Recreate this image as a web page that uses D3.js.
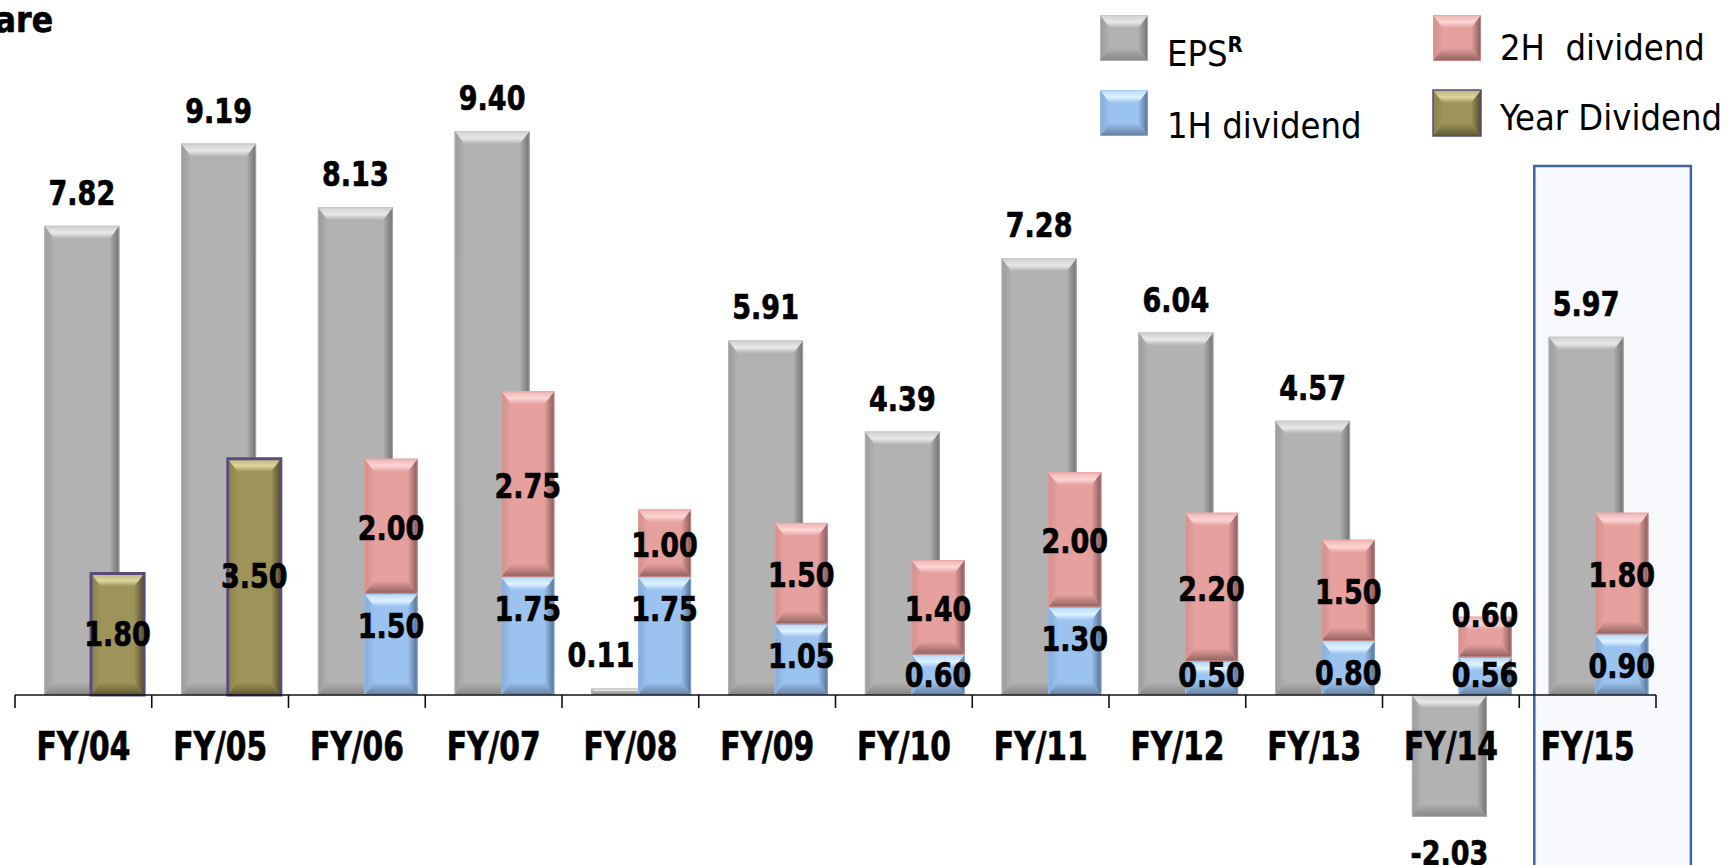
<!DOCTYPE html>
<html>
<head>
<meta charset="utf-8">
<script src="https://cdn.jsdelivr.net/npm/d3@7"></script>
<style>
  html, body { margin: 0; padding: 0; background: #ffffff; overflow: hidden; }
  svg { display: block; }
  text { font-family: "DejaVu Sans Condensed", "DejaVu Sans", sans-serif; font-stretch: condensed; }
</style>
</head>
<body>
<svg id="chart" width="1729" height="865"></svg>
<script>
// Per-share figures by financial year
const categories = ["FY/04", "FY/05", "FY/06", "FY/07", "FY/08", "FY/09", "FY/10", "FY/11", "FY/12", "FY/13", "FY/14", "FY/15"];
const eps          = [7.82, 9.19, 8.13, 9.40, 0.11, 5.91, 4.39, 7.28, 6.04, 4.57, -2.03, 5.97];
const yearDividend = [1.80, 3.50, null, null, null, null, null, null, null, null, null, null];
const firstHalf    = [null, null, 1.50, 1.75, 1.75, 1.05, 0.60, 1.30, 0.50, 0.80, 0.56, 0.90];
const secondHalf   = [null, null, 2.00, 2.75, 1.00, 1.50, 1.40, 2.00, 2.20, 1.50, 0.60, 1.80];
const highlighted  = "FY/15";
const titleText    = "Per share";

// Bevel palettes: face, top ridge, top highlight, bottom, left, right
const palette = {
  eps:  { face: "#b2b2b2", top: "#cfcfcf", hi: "#e8e8e8", bottom: "#858585", left: "#9a9a9a", right: "#707070", edge: "#c4c4c4" },
  h1:   { face: "#9cc2f0", top: "#b5d7fb", hi: "#dff3ff", bottom: "#62809f", left: "#86abd8", right: "#546f91", edge: "#9cc2f0" },
  h2:   { face: "#e6a19f", top: "#eeb3b2", hi: "#fbd6d5", bottom: "#8e605e", left: "#d38f8d", right: "#85595a", edge: "#e6a19f" },
  year: { face: "#9e9459", top: "#bbb27a", hi: "#ddd6a2", bottom: "#5f5931", left: "#8a824d", right: "#524c2a", edge: "#5b4b7c" }
};

const legendItems = [
  { key: "eps",  label: "EPS", sup: "R", col: 0, row: 0 },
  { key: "h1",   label: "1H dividend", col: 0, row: 1 },
  { key: "h2",   label: "2H\u00a0 dividend", col: 1, row: 0 },
  { key: "year", label: "Year Dividend", col: 1, row: 1 }
];

const svg = d3.select("#chart");

// Scales: EPS on the primary axis, dividends on the secondary axis, shared zero line
const x = d3.scaleBand().domain(categories).range([15, 1656]).paddingInner(0).paddingOuter(0);
const bw = x.bandwidth();
const yEps = d3.scaleLinear().domain([-3, 10]).range([875, 95]);
const yDiv = d3.scaleLinear().domain([0, 10]).range([695, 20]);
const zeroY = yEps(0);

const epsX = c => x(c) + bw * 0.215;
const epsW = bw * 0.548;
const divX = c => x(c) + bw * 0.556;
const divW = bw * 0.388;

// Highlight panel for the latest year
svg.append("rect")
  .attr("x", x(highlighted) + bw * 0.11)
  .attr("y", 166)
  .attr("width", bw * 1.145)
  .attr("height", 760)
  .attr("fill", "#f7f9fc")
  .attr("stroke", "#3f659f")
  .attr("stroke-width", 2.5);

// Gradients for bevel sides
const defs = svg.append("defs");
Object.entries(palette).forEach(([k, p]) => {
  const gl = defs.append("linearGradient").attr("id", "gl-" + k).attr("x1", 0).attr("x2", 1).attr("y1", 0).attr("y2", 0);
  gl.append("stop").attr("offset", 0).attr("stop-color", p.left);
  gl.append("stop").attr("offset", 1).attr("stop-color", p.face);
  const gr = defs.append("linearGradient").attr("id", "gr-" + k).attr("x1", 0).attr("x2", 1).attr("y1", 0).attr("y2", 0);
  gr.append("stop").attr("offset", 0).attr("stop-color", p.face);
  gr.append("stop").attr("offset", 1).attr("stop-color", p.right);
  const gt = defs.append("linearGradient").attr("id", "gt-" + k).attr("x1", 0).attr("x2", 0).attr("y1", 0).attr("y2", 1);
  gt.append("stop").attr("offset", 0).attr("stop-color", p.top);
  gt.append("stop").attr("offset", 0.55).attr("stop-color", p.hi);
  gt.append("stop").attr("offset", 1).attr("stop-color", p.face);
  const gb = defs.append("linearGradient").attr("id", "gb-" + k).attr("x1", 0).attr("x2", 0).attr("y1", 0).attr("y2", 1);
  gb.append("stop").attr("offset", 0).attr("stop-color", p.face);
  gb.append("stop").attr("offset", 1).attr("stop-color", p.bottom);
});

// Draws one bevelled block
function bevelBar(g, key, bx, by, w, h, opts = {}) {
  const p = palette[key];
  if (h <= 0) return;
  const grp = g.append("g");
  const bv = Math.min(13, h / 2, w / 2);
  const sv = Math.min(10, h / 2, w / 2);
  grp.append("rect").attr("x", bx).attr("y", by).attr("width", w).attr("height", h).attr("fill", p.face);
  const poly = (pts, fill) => grp.append("polygon").attr("points", pts.map(q => q.join(",")).join(" ")).attr("fill", fill);
  poly([[bx, by], [bx + sv, by + bv], [bx + sv, by + h - bv], [bx, by + h]], `url(#gl-${key})`);
  poly([[bx + w, by], [bx + w - sv, by + bv], [bx + w - sv, by + h - bv], [bx + w, by + h]], `url(#gr-${key})`);
  poly([[bx, by], [bx + w, by], [bx + w - sv, by + bv], [bx + sv, by + bv]], `url(#gt-${key})`);
  poly([[bx, by + h], [bx + w, by + h], [bx + w - sv, by + h - bv], [bx + sv, by + h - bv]], `url(#gb-${key})`);
  if (opts.border) {
    grp.append("rect").attr("x", bx).attr("y", by).attr("width", w).attr("height", h)
      .attr("fill", "none").attr("stroke", p.edge).attr("stroke-width", opts.border);
  } else {
    grp.append("rect").attr("x", bx + 0.5).attr("y", by + 0.5).attr("width", w - 1).attr("height", Math.max(0, h - 1))
      .attr("fill", "none").attr("stroke", p.edge).attr("stroke-width", 1).attr("stroke-opacity", 0.6);
  }
}

const bars = svg.append("g");

// EPS bars (primary axis)
categories.forEach((c, i) => {
  const v = eps[i];
  const top = Math.min(yEps(v), zeroY);
  const h = Math.abs(yEps(v) - zeroY);
  bevelBar(bars, "eps", epsX(c), top, epsW, h);
});

// Dividend bars (secondary axis, stacked)
categories.forEach((c, i) => {
  if (yearDividend[i] != null) {
    const top = yDiv(yearDividend[i]);
    bevelBar(bars, "year", divX(c), top, divW, zeroY - top, { border: 3 });
  }
  if (firstHalf[i] != null) {
    const t1 = yDiv(firstHalf[i]);
    bevelBar(bars, "h1", divX(c), t1, divW, zeroY - t1);
    if (secondHalf[i] != null) {
      const t2 = yDiv(firstHalf[i] + secondHalf[i]);
      bevelBar(bars, "h2", divX(c), t2, divW, t1 - t2);
    }
  }
});

// Tall bold label: text stretched vertically about its baseline
function boldLabel(g, tx, ty, str, size, stretch) {
  return g.append("text")
    .attr("transform", `translate(${tx},${ty}) scale(1,${stretch})`)
    .attr("x", 0).attr("y", 0)
    .attr("text-anchor", "middle")
    .attr("font-size", size)
    .attr("font-weight", "bold")
    .attr("fill", "#000")
    .attr("stroke", "#000")
    .attr("stroke-width", 0.6)
    .text(str);
}

// Category axis with boundary ticks
const axis = svg.append("g");
axis.append("line").attr("x1", x.range()[0]).attr("x2", x.range()[1])
  .attr("y1", zeroY).attr("y2", zeroY).attr("stroke", "#111").attr("stroke-width", 1.6);
categories.concat([null]).forEach(c => {
  const tx = c == null ? x.range()[1] : x(c);
  axis.append("line").attr("x1", tx).attr("x2", tx).attr("y1", zeroY).attr("y2", zeroY + 13)
    .attr("stroke", "#111").attr("stroke-width", 1.6);
});
categories.forEach(c => boldLabel(axis, x(c) + bw / 2, 760, c, 33, 1.18));

// Value labels
const fmt = d3.formatLocale({ decimal: ".", thousands: ",", grouping: [3], currency: ["", ""], minus: "-" }).format(".2f");
const labels = svg.append("g");
const valSize = 30, valStretch = 1.12;

categories.forEach((c, i) => {
  const v = eps[i];
  let lx = epsX(c) + epsW / 2;
  if (Math.abs(v) < 0.5) lx -= 28; // keep clear of the neighbouring dividend label
  const ly = v >= 0 ? yEps(v) - 21 : yEps(v) + 48;
  boldLabel(labels, lx, ly, fmt(v), valSize, valStretch);
});

const capHalf = 11.5;
categories.forEach((c, i) => {
  const cx = divX(c) + divW / 2;
  if (yearDividend[i] != null) {
    const mid = (yDiv(yearDividend[i]) + zeroY) / 2;
    boldLabel(labels, cx, mid + capHalf, fmt(yearDividend[i]), valSize, valStretch);
  }
  if (firstHalf[i] != null) {
    const t1 = yDiv(firstHalf[i]);
    const base1 = Math.min(t1 + 44, zeroY - 8);
    boldLabel(labels, cx, base1, fmt(firstHalf[i]), valSize, valStretch);
    if (secondHalf[i] != null) {
      const t2 = yDiv(firstHalf[i] + secondHalf[i]);
      const mid2 = Math.min((t1 + t2) / 2 + 2, base1 - capHalf - 60);
      boldLabel(labels, cx, mid2 + capHalf, fmt(secondHalf[i]), valSize, valStretch);
    }
  }
});

// Title (runs off the left edge)
svg.append("text").attr("x", 53).attr("y", 32).attr("text-anchor", "end")
  .attr("font-size", 35).attr("font-weight", "bold").attr("fill", "#000")
  .attr("stroke", "#000").attr("stroke-width", 0.6).text(titleText);

// Legend
const legend = svg.append("g");
const colX = [1100, 1433];
const rowY = [15, 90];
const textY = [[66, 138], [60, 130]];
legendItems.forEach(it => {
  const lx = colX[it.col], ly = rowY[it.row];
  bevelBar(legend, it.key, lx, ly, 48, 46, it.key === "year" ? { border: 1.5 } : {});
  const t = legend.append("text").attr("x", lx + 67).attr("y", textY[it.col][it.row])
    .attr("font-size", 36).attr("fill", "#000").text(it.label);
  if (it.sup) {
    t.append("tspan").attr("dy", -14).attr("font-size", 22).attr("font-weight", "bold").text(it.sup);
  }
});
</script>
</body>
</html>
